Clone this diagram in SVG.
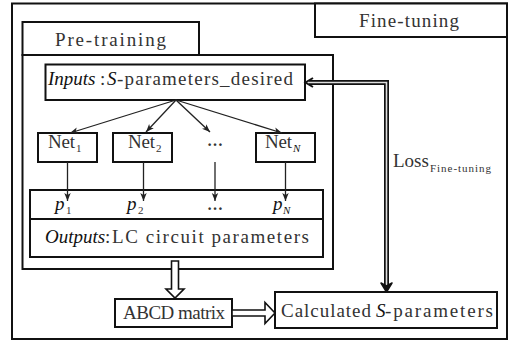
<svg xmlns="http://www.w3.org/2000/svg" width="516" height="346" viewBox="0 0 516 346">
<defs>
<style>
.box{fill:#fff;stroke:#111;stroke-width:2}
.thin{fill:none;stroke:#222;stroke-width:1.3}
.mono{font-family:"Liberation Serif","Times New Roman",serif;font-size:19px;fill:#333}
.it{font-family:"Liberation Serif","Times New Roman",serif;font-style:italic;font-size:19px;fill:#111}
.ser{font-family:"Liberation Serif","Times New Roman",serif;font-size:18px;fill:#333}
.sub{font-size:11px}
.hollow{fill:#fff;stroke:#111;stroke-width:1.6;stroke-linejoin:miter}
</style>
<marker id="ah" viewBox="0 0 10 10" refX="10" refY="5" markerWidth="8" markerHeight="8" orient="auto" markerUnits="userSpaceOnUse">
<path d="M0,1 L10,5 L0,9 L2.5,5 Z" fill="#222"/>
</marker>
</defs>
<rect width="516" height="346" fill="#fff"/>

<g id="outer">
<rect class="box" x="12" y="3.5" width="495" height="335.5"/>
</g>
<g id="finetuning-label">
<rect class="box" x="315" y="3.5" width="192" height="33.5"/>
<text class="mono" x="359" y="27" textLength="100" lengthAdjust="spacing">Fine-tuning</text>
</g>
<g id="pretraining">
<rect class="box" x="22.5" y="55" width="310.5" height="214"/>
</g>
<g id="pretraining-label">
<rect class="box" x="22.5" y="22" width="176.5" height="33"/>
<text class="mono" x="55" y="46" textLength="111" lengthAdjust="spacing">Pre-training</text>
</g>
<g id="inputs">
<rect class="box" x="45.5" y="64.5" width="259.5" height="35.5"/>
<text class="it" x="48" y="85">Inputs</text>
<text class="mono" x="100" y="85">:</text>
<text class="it" x="107" y="85">S</text>
<text class="mono" x="117" y="85" textLength="176" lengthAdjust="spacing">-parameters_desired</text>
</g>
<g id="net1">
<rect class="box" x="38" y="133" width="59" height="29"/>
<text class="mono" x="48" y="148" textLength="27" lengthAdjust="spacing">Net</text>
<text class="ser sub" x="76" y="152">1</text>
</g>
<g id="net2">
<rect class="box" x="113" y="133" width="59" height="29"/>
<text class="mono" x="128" y="148" textLength="27" lengthAdjust="spacing">Net</text>
<text class="ser sub" x="156" y="152">2</text>
</g>
<g id="netdots">
<text class="ser" x="207" y="146" style="font-size:16px;font-weight:bold">…</text>
</g>
<g id="netN">
<rect class="box" x="256" y="133" width="59" height="29"/>
<text class="mono" x="265" y="148" textLength="27" lengthAdjust="spacing">Net</text>
<text class="it" x="293" y="152" style="font-size:11px">N</text>
</g>
<g id="outputs">
<rect class="box" x="30" y="190" width="293" height="67"/>
<line x1="30" y1="219" x2="323" y2="219" stroke="#111" stroke-width="2"/>
<text class="it" x="55" y="210">p</text><text class="ser sub" x="66" y="214">1</text>
<text class="it" x="127" y="210">p</text><text class="ser sub" x="138" y="214">2</text>
<text class="ser" x="207" y="210" style="font-size:16px;font-weight:bold">…</text>
<text class="it" x="273" y="210">p</text><text class="it" x="283" y="214" style="font-size:11px">N</text>
<text class="it" x="45" y="243">Outputs</text>
<text class="mono" x="105" y="243">:</text>
<text class="mono" x="112" y="243" textLength="197" lengthAdjust="spacing">LC circuit parameters</text>
</g>
<g id="abcd">
<rect class="box" x="115" y="299" width="117" height="28"/>
<text class="mono" x="123" y="319" textLength="102" lengthAdjust="spacing">ABCD matrix</text>
</g>
<g id="calculated">
<rect class="box" x="275" y="292" width="222" height="36"/>
<text class="mono" x="281" y="317" textLength="90" lengthAdjust="spacing">Calculated</text>
<text class="it" x="376" y="317">S</text>
<text class="mono" x="385" y="317" textLength="108" lengthAdjust="spacing">-parameters</text>
</g>
<g id="loss-label">
<text class="ser" x="393" y="167" style="font-size:19px">Loss</text>
<text class="mono" x="430" y="172" style="font-size:11px" textLength="61" lengthAdjust="spacing">Fine-tuning</text>
</g>

<g id="connectors">
<line class="thin" x1="176" y1="100" x2="70" y2="133" marker-end="url(#ah)"/>
<line class="thin" x1="176" y1="100" x2="146" y2="132" marker-end="url(#ah)"/>
<line class="thin" x1="176" y1="100" x2="210" y2="132" marker-end="url(#ah)"/>
<line class="thin" x1="176" y1="100" x2="282" y2="133" marker-end="url(#ah)"/>
<line class="thin" x1="67.5" y1="162" x2="67.5" y2="201" marker-end="url(#ah)"/>
<line class="thin" x1="143.5" y1="162" x2="143.5" y2="201" marker-end="url(#ah)"/>
<line class="thin" x1="215" y1="162" x2="215" y2="201" marker-end="url(#ah)"/>
<line class="thin" x1="285.5" y1="162" x2="285.5" y2="201" marker-end="url(#ah)"/>
<polygon class="hollow" points="171.5,261 178.5,261 178.5,289 184,289 175,298 166,289 171.5,289"/>
<polygon class="hollow" points="232,310 265,310 265,302.5 275,313 265,323.5 265,316 232,316"/>
<path d="M309,82.5 H386.5 V286" fill="none" stroke="#111" stroke-width="5"/>
<path d="M308,82.5 H386.5 V286" fill="none" stroke="#ddd" stroke-width="1.6"/>
<path d="M313,78 L305.5,82.5 L313,87" fill="none" stroke="#111" stroke-width="2"/>
<path d="M381,283 L386.5,292 L392,283 L386.5,286 Z" fill="#111" stroke="#111" stroke-width="1.5" stroke-linejoin="round"/>
</g>
</svg>
